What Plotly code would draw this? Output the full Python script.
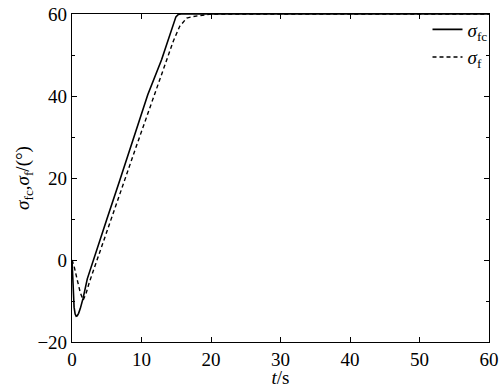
import plotly.graph_objects as go

t_fc = [0, 0.05, 0.15, 0.3, 0.45, 0.6, 0.75, 0.95, 1.2, 1.6, 2.2, 3.07, 5.0, 6.9, 8.0, 10.9, 12.9, 14.6, 14.95, 15.3, 15.7, 20, 30, 40, 50, 60]
sigma_fc = [0, -2.5, -7.5, -11.5, -13.2, -13.7, -13.6, -13.0, -11.8, -9.3, -4.6, 0, 9.9, 19.6, 25.3, 40.3, 48.9, 57.5, 59.3, 59.9, 60, 60, 60, 60, 60, 60]

t_f = [0, 0.3, 0.76, 1.2, 1.6, 2.0, 2.5, 3.0, 3.6, 5.0, 7.6, 9.06, 11.7, 13.6, 14.6, 15.5, 16.5, 17.5, 19, 20, 30, 40, 50, 60]
sigma_f = [0, -1.5, -4.9, -8.0, -9.8, -8.3, -5.4, -2.9, 0, 6.9, 19.6, 26.8, 39.7, 49.0, 53.5, 57.0, 59.0, 59.4, 59.8, 60, 60, 60, 60, 60]

x_ticks = [0, 10, 20, 30, 40, 50, 60]
y_ticks = [-20, 0, 20, 40, 60]

font = "Liberation Serif, Times New Roman, serif"

fig = go.Figure()
fig.add_trace(go.Scatter(x=t_fc, y=sigma_fc, mode="lines", name="<i>σ</i><sub>fc</sub>",
                         line=dict(color="black", width=1.6)))
fig.add_trace(go.Scatter(x=t_f, y=sigma_f, mode="lines", name="<i>σ</i><sub>f</sub>",
                         line=dict(color="black", width=1.4, dash="4px,3px")))

axis_common = dict(showgrid=False, zeroline=False, showline=True, linecolor="black",
                   linewidth=1.2, mirror="allticks", ticks="inside", ticklen=5,
                   tickcolor="black", tickwidth=1, automargin=False,
                   tickfont=dict(family=font, size=19, color="black"))

fig.update_xaxes(range=[0, 60], tickvals=x_ticks, ticklabelstandoff=0,
                 title=dict(text="<i>t</i>/s", font=dict(family=font, size=19, color="black"), standoff=0),
                 **axis_common)
fig.update_yaxes(range=[-20, 60], tickvals=y_ticks,
                 minor=dict(dtick=10, ticks="inside", ticklen=3, tickcolor="black", showgrid=False),
                 title=dict(text="<i>σ</i><sub>fc</sub>,<i>σ</i><sub>f</sub>/(°)", font=dict(family=font, size=19, color="black"), standoff=2),
                 **axis_common)

fig.update_layout(
    width=500, height=388,
    margin=dict(l=72, r=11, t=14, b=46, autoexpand=False),
    paper_bgcolor="white", plot_bgcolor="white",
    font=dict(family=font, color="black"),
    showlegend=True,
    legend=dict(x=0.985, y=0.973, xref="container", yref="container",
                xanchor="right", yanchor="top",
                bgcolor="rgba(0,0,0,0)", borderwidth=0,
                font=dict(family=font, size=19, color="black"),
                tracegroupgap=0, itemwidth=30),
)

fig.write_html("out.html", config={"displayModeBar": False},
               post_script="document.body.style.margin='0';")
